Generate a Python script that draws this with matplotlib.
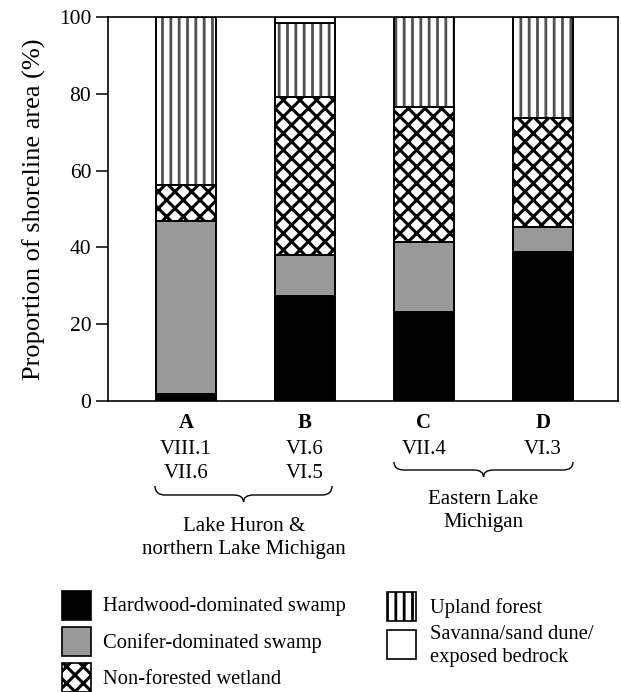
import matplotlib
matplotlib.use("Agg")
import matplotlib.pyplot as plt
from matplotlib.patches import Rectangle, PathPatch
from matplotlib.path import Path
import numpy as np

plt.rcParams['font.family'] = ['Liberation Serif', 'DejaVu Serif']

# ---- data ----
sites = ["A", "B", "C", "D"]
site_line1 = ["VIII.1", "VI.6", "VII.4", "VI.3"]
site_line2 = ["VII.6", "VI.5", "", ""]
series_names = ["Hardwood-dominated swamp", "Conifer-dominated swamp",
                "Non-forested wetland", "Upland forest",
                "Savanna/sand dune/\nexposed bedrock"]
hardwood = [1.8, 27.3, 23.2, 38.8]
conifer = [45.1, 10.7, 18.2, 6.5]
nonforest = [9.3, 41.2, 35.2, 28.4]
upland = [43.8, 19.2, 23.4, 26.3]
savanna = [0.0, 1.6, 0.0, 0.0]
groups = ["Lake Huron &\nnorthern Lake Michigan", "Eastern Lake\nMichigan"]
yticks = [0, 20, 40, 60, 80, 100]

series = [hardwood, conifer, nonforest, upland, savanna]
faces = ["black", "#999999", "white", "white", "white"]
hatches = [None, None, "xx", "||", None]
hatch_cols = ["black", "black", "black", "#505050", "black"]
hatch_lws = [1.0, 1.0, 2.2, 2.0, 1.0]

W, H = 621, 692
FS = 15.0
LFS = 14.8
fig = plt.figure(figsize=(W / 100, H / 100), dpi=100)
ax = fig.add_axes([108 / W, 1 - 401 / H, (618 - 108) / W, (401 - 17) / H])

x = np.arange(len(sites))
bottom = np.zeros(len(sites))
for vals, fc, ht, hc, hlw in zip(series, faces, hatches, hatch_cols, hatch_lws):
    vals = np.array(vals)
    with plt.rc_context({'hatch.linewidth': hlw, 'hatch.color': hc}):
        if ht:
            bars = ax.bar(x, vals, width=0.505, bottom=bottom, color=fc,
                          edgecolor=hc, linewidth=0, hatch=ht, zorder=2)
            for b in bars:
                try:
                    b.set_hatch_linewidth(hlw)
                except Exception:
                    pass
        ax.bar(x, vals, width=0.505, bottom=bottom,
               color=(fc if not ht else "none"),
               edgecolor="black", linewidth=1.4, zorder=3)
    bottom += vals

ax.set_xlim(-0.655, 3.63)
ax.set_ylim(0, 100)
ax.set_yticks(yticks)
ax.set_yticklabels([str(t) for t in yticks], fontsize=15.5)
ax.tick_params(axis='y', direction='out', length=9, width=1.1, pad=3)
ax.set_xticks([])
for s in ax.spines.values():
    s.set_linewidth(1.2)
ax.set_ylabel("Proportion of shoreline area (%)", fontsize=19, labelpad=9)

# site labels
for i in range(len(sites)):
    ax.annotate(sites[i], xy=(x[i], 0), xycoords=('data', 'axes fraction'),
                xytext=(0, -22 * 0.72), textcoords='offset points',
                ha='center', va='center', fontsize=FS, fontweight='bold')
    ax.annotate(site_line1[i], xy=(x[i], 0), xycoords=('data', 'axes fraction'),
                xytext=(0, -48 * 0.72), textcoords='offset points',
                ha='center', va='center', fontsize=FS)
    if site_line2[i]:
        ax.annotate(site_line2[i], xy=(x[i], 0), xycoords=('data', 'axes fraction'),
                    xytext=(0, -73 * 0.72), textcoords='offset points',
                    ha='center', va='center', fontsize=FS)

# overlay axes in pixel coordinates for braces and legend
ov = fig.add_axes([0, 0, 1, 1], zorder=-1)
ov.set_xlim(0, W)
ov.set_ylim(H, 0)
ov.axis('off')


def brace(x0, x1, ytop, yline, ytip, r=10):
    xm = (x0 + x1) / 2
    verts = [(x0, ytop), (x0, yline), (x0 + r, yline),
             (xm - r, yline),
             (xm, yline), (xm, ytip),
             (xm, yline), (xm + r, yline),
             (x1 - r, yline),
             (x1, yline), (x1, ytop)]
    codes = [Path.MOVETO, Path.CURVE3, Path.CURVE3,
             Path.LINETO,
             Path.CURVE3, Path.CURVE3,
             Path.CURVE3, Path.CURVE3,
             Path.LINETO,
             Path.CURVE3, Path.CURVE3]
    ov.add_patch(PathPatch(Path(verts, codes), fill=False, lw=1.0, edgecolor='black'))


brace(155, 332, 486, 495, 502)
brace(394, 573, 462, 470, 477)
ov.text(244, 538, groups[0], ha='center', va='center', fontsize=FS, linespacing=1.25)
ov.text(483, 511, groups[1], ha='center', va='center', fontsize=FS, linespacing=1.25)

# legend
leg_pos = [(62, 591), (62, 627), (62, 663), (387, 592), (387, 630)]
for (lx, ly), name, fc, ht, hc, hlw in zip(leg_pos, series_names, faces, hatches, hatch_cols, hatch_lws):
    size = 29
    with plt.rc_context({'hatch.linewidth': hlw}):
        if ht:
            p = Rectangle((lx, ly), size, size, facecolor=fc, edgecolor='black',
                          hatch=ht, linewidth=1.2)
            try:
                p.set_hatch_linewidth(hlw)
            except Exception:
                pass
        else:
            p = Rectangle((lx, ly), size, size, facecolor=fc, edgecolor='black',
                          linewidth=1.2)
        ov.add_patch(p)
    tx = lx + 41 if lx < 200 else lx + 43
    ov.text(tx, ly + size / 2 + 1.5, name, ha='left', va='center', fontsize=LFS,
            linespacing=1.3)

fig.savefig("out.png", dpi=100)
